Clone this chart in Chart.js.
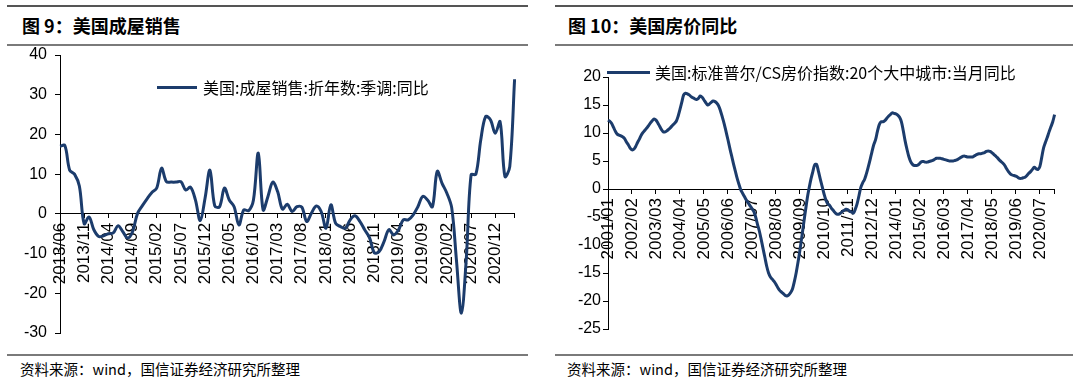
<!DOCTYPE html>
<html>
<head>
<meta charset="utf-8">
<script src="https://cdn.jsdelivr.net/npm/chart.js@4.4.0/dist/chart.umd.min.js"></script>
<style>
  body { margin: 0; width: 1080px; height: 390px; background: #fff; position: relative; overflow: hidden; }
  .rule { position: absolute; height: 2px; background: #7a7a7a; }
  .title { position: absolute; font: bold 18px "Noto Sans CJK SC", sans-serif; line-height: 20px; color: #000; white-space: nowrap; }
  .src { position: absolute; font: 14.5px "Noto Sans CJK SC", sans-serif; line-height: 18px; color: #000; white-space: nowrap; }
  .lgLine { position: absolute; height: 3px; background: #1c3c6c; }
  .lgText { position: absolute; font: 16px "Noto Sans CJK SC", sans-serif; line-height: 20px; color: #000; white-space: nowrap; z-index: 2; }
  canvas { position: absolute; top: 0; }
</style>
</head>
<body>
<div class="rule" style="left:7px;top:5px;width:521px;background:#555"></div>
<div class="title" style="left:22px;top:15px">图 9：美国成屋销售</div>
<div class="rule" style="left:7px;top:44px;width:521px"></div>
<div class="rule" style="left:7px;top:354px;width:521px"></div>
<div class="src" style="left:20px;top:360px">资料来源：wind，国信证券经济研究所整理</div>

<div class="rule" style="left:555px;top:5px;width:518px;background:#555"></div>
<div class="title" style="left:568px;top:15px">图 10：美国房价同比</div>
<div class="rule" style="left:555px;top:44px;width:518px"></div>
<div class="rule" style="left:555px;top:354px;width:518px"></div>
<div class="src" style="left:567px;top:360px">资料来源：wind，国信证券经济研究所整理</div>

<canvas id="sales" width="540" height="390" style="left:0"></canvas>
<canvas id="hpi" width="540" height="390" style="left:540px"></canvas>

<div class="lgLine" style="left:157px;top:86px;width:40px"></div>
<div class="lgText" style="left:203px;top:77px">美国:成屋销售:折年数:季调:同比</div>
<div class="lgLine" style="left:607px;top:71px;width:43px"></div>
<div class="lgText" style="left:655px;top:62px">美国:标准普尔/CS房价指数:20个大中城市:当月同比</div>

<script>
// 美国成屋销售 同比 (%), 2013/06 - 2021/04
const salesStart = [2013, 6];
const salesYoY = [
  17, 17.2, 11, 10, 7, -2.5, -0.8, -4, -5.7, -5.5,
  -5, -4.8, -3, -4.5, -6.1, -4.5, 0, 2, 3.8, 5.4,
  6.5, 11.5, 8.1, 8, 8, 8.1, 6, 6.7, 3.5, -1.7,
  4, 11, 2, 1.8, 6.5, 3.5, 1.8, -2.8, 1, 0.8,
  3.5, 15.3, 1, 4.4, 8, 5.6, 1.2, 2.4, 0.6, 1.8,
  1.7, -1.9, 0.2, 2, 0.6, -3.6, 2.3, -2.4, -3.2, -3.6,
  -1.5, -0.5, -1.9, -4, -6, -9.8, -9.5, -7, -4, -5.3,
  -4, -1.5, -1.5, -0.3, 1.8, 4.4, 3.5, 1.8, 10.7, 7.7,
  5.2, 1.5, -12, -25, -11.5, 9.8, 10, 18.6, 24.5, 23.7,
  20.3, 23.2, 9.4, 11.9, 33.9
];
const salesTickEvery = 5;
const salesY = { min: -30, max: 40, step: 10 };

// 美国标准普尔/CS房价指数 20城 同比 (%), 2001/01 - 2021/03
const hpiStart = [2001, 1];
const hpiYoY = [
  12.3, 12.1, 11.7, 11.0, 10.3, 9.8, 9.6, 9.5, 9.3, 9.0, 8.4, 7.9,
  7.3, 7.0, 7.1, 7.6, 8.3, 8.9, 9.6, 10.1, 10.5, 10.9, 11.3, 11.8,
  12.2, 12.5, 12.3, 11.8, 11.2, 10.6, 10.2, 10.2, 10.4, 10.7, 11.0, 11.4,
  11.7, 12.1, 13.0, 14.2, 15.5, 16.8, 17.1, 17.0, 16.8, 16.5, 16.3, 16.1,
  16.0, 16.2, 16.6, 16.4, 15.9, 15.4, 15.0, 15.2, 15.5, 15.7, 15.6, 15.3,
  14.8, 13.9, 12.8, 11.6, 10.2, 8.8, 7.3, 5.9, 4.5, 3.2, 1.9, 0.8,
  -0.2, -0.8, -1.4, -2.0, -2.5, -3.0, -3.5, -4.0, -5.0, -6.3, -7.5, -9.0,
  -10.6, -12.2, -13.8, -15.0, -15.7, -16.1, -16.5, -17.0, -17.6, -18.1, -18.4, -18.7,
  -19.0, -19.1, -18.9, -18.5, -17.8, -16.5, -14.9, -13.0, -10.9, -8.6, -6.2, -3.9,
  -1.6, 0.2, 1.8, 3.1, 4.3, 4.4, 3.2, 1.8, 0.5, -0.8, -1.9, -2.6,
  -2.9, -3.4, -3.8, -4.2, -4.5, -4.5, -4.3, -4.0, -3.8, -3.6, -3.7, -4.0,
  -4.1, -4.3, -3.6, -2.6, -1.2, 0.3, 1.1, 1.7, 2.7, 3.9, 5.2, 6.6,
  7.9, 8.8, 10.3, 11.5, 12.0, 12.0, 12.2, 12.6, 13.0, 13.3, 13.6, 13.5,
  13.4, 13.2, 12.8, 12.0, 10.4, 8.6, 7.1, 5.8, 4.9, 4.4, 4.2, 4.2,
  4.3, 4.6, 4.9, 4.9, 4.8, 4.8, 4.9, 5.0, 5.1, 5.3, 5.5, 5.5,
  5.5, 5.4, 5.3, 5.2, 5.1, 5.0, 5.0, 5.0, 5.1, 5.2, 5.4, 5.6,
  5.8, 5.9, 5.8, 5.7, 5.7, 5.7, 5.8, 6.0, 6.2, 6.3, 6.3, 6.4,
  6.5, 6.7, 6.8, 6.7, 6.5, 6.2, 5.9, 5.6, 5.2, 4.9, 4.6, 4.2,
  3.6, 3.1, 2.7, 2.5, 2.4, 2.3, 2.1, 1.9, 1.9, 2.0, 2.1, 2.4,
  2.8, 3.1, 3.5, 3.9, 3.6, 3.5, 4.0, 5.6, 7.3, 8.3, 9.2, 10.2,
  11.1, 12.0, 13.3
];
const hpiTickEvery = 13;
const hpiY = { min: -25, max: 20, step: 5 };

const lineColor = '#1c3c6c';

function monthLabels(start, n) {
  const out = [];
  let y = start[0], m = start[1];
  for (let i = 0; i < n; i++) {
    out.push(y + '/' + String(m).padStart(2, '0'));
    m++;
    if (m > 12) { m = 1; y++; }
  }
  return out;
}

Chart.defaults.font.family = '"Liberation Sans", Arial, sans-serif';
Chart.defaults.font.size = 16;
Chart.defaults.color = '#000';

function drawChart(id, labels, values, yr, every, yWidth, labelPad, padding) {
  const n = labels.length;
  return new Chart(document.getElementById(id), {
    type: 'line',
    data: {
      labels: labels,
      datasets: [{
        data: values,
        borderColor: lineColor,
        borderWidth: 3,
        pointRadius: 0,
        tension: 0.35,
        fill: false
      }]
    },
    options: {
      responsive: false,
      animation: false,
      layout: { padding: padding },
      plugins: { legend: { display: false }, tooltip: { enabled: false } },
      scales: {
        x: {
          type: 'category',
          position: { y: 0 },
          offset: false,
          grid: { drawOnChartArea: false, drawTicks: true, tickLength: 4, color: '#000' },
          border: { color: '#000', width: 1 },
          ticks: {
            autoSkip: false,
            maxRotation: 90,
            minRotation: 90,
            padding: 5,
            font: { size: 17 },
            callback: function (v, i) {
              if (i % every === 0) return this.getLabelForValue(v);
              if (i === n - 1) return '';
              return null;
            }
          }
        },
        y: {
          min: yr.min,
          max: yr.max,
          grid: { drawOnChartArea: false, drawTicks: true, tickLength: 5, color: '#000' },
          border: { color: '#000', width: 1 },
          ticks: { stepSize: yr.step, padding: labelPad, font: { size: 16 } },
          afterFit: function (s) { s.width = yWidth; }
        }
      }
    }
  });
}

drawChart('sales', monthLabels(salesStart, salesYoY.length), salesYoY, salesY,
  salesTickEvery, 60, 8, { left: 0, top: 55, right: 25, bottom: 57 });
drawChart('hpi', monthLabels(hpiStart, hpiYoY.length), hpiYoY, hpiY,
  hpiTickEvery, 68, 2, { left: 0, top: 77, right: 24, bottom: 61 });
</script>
</body>
</html>
